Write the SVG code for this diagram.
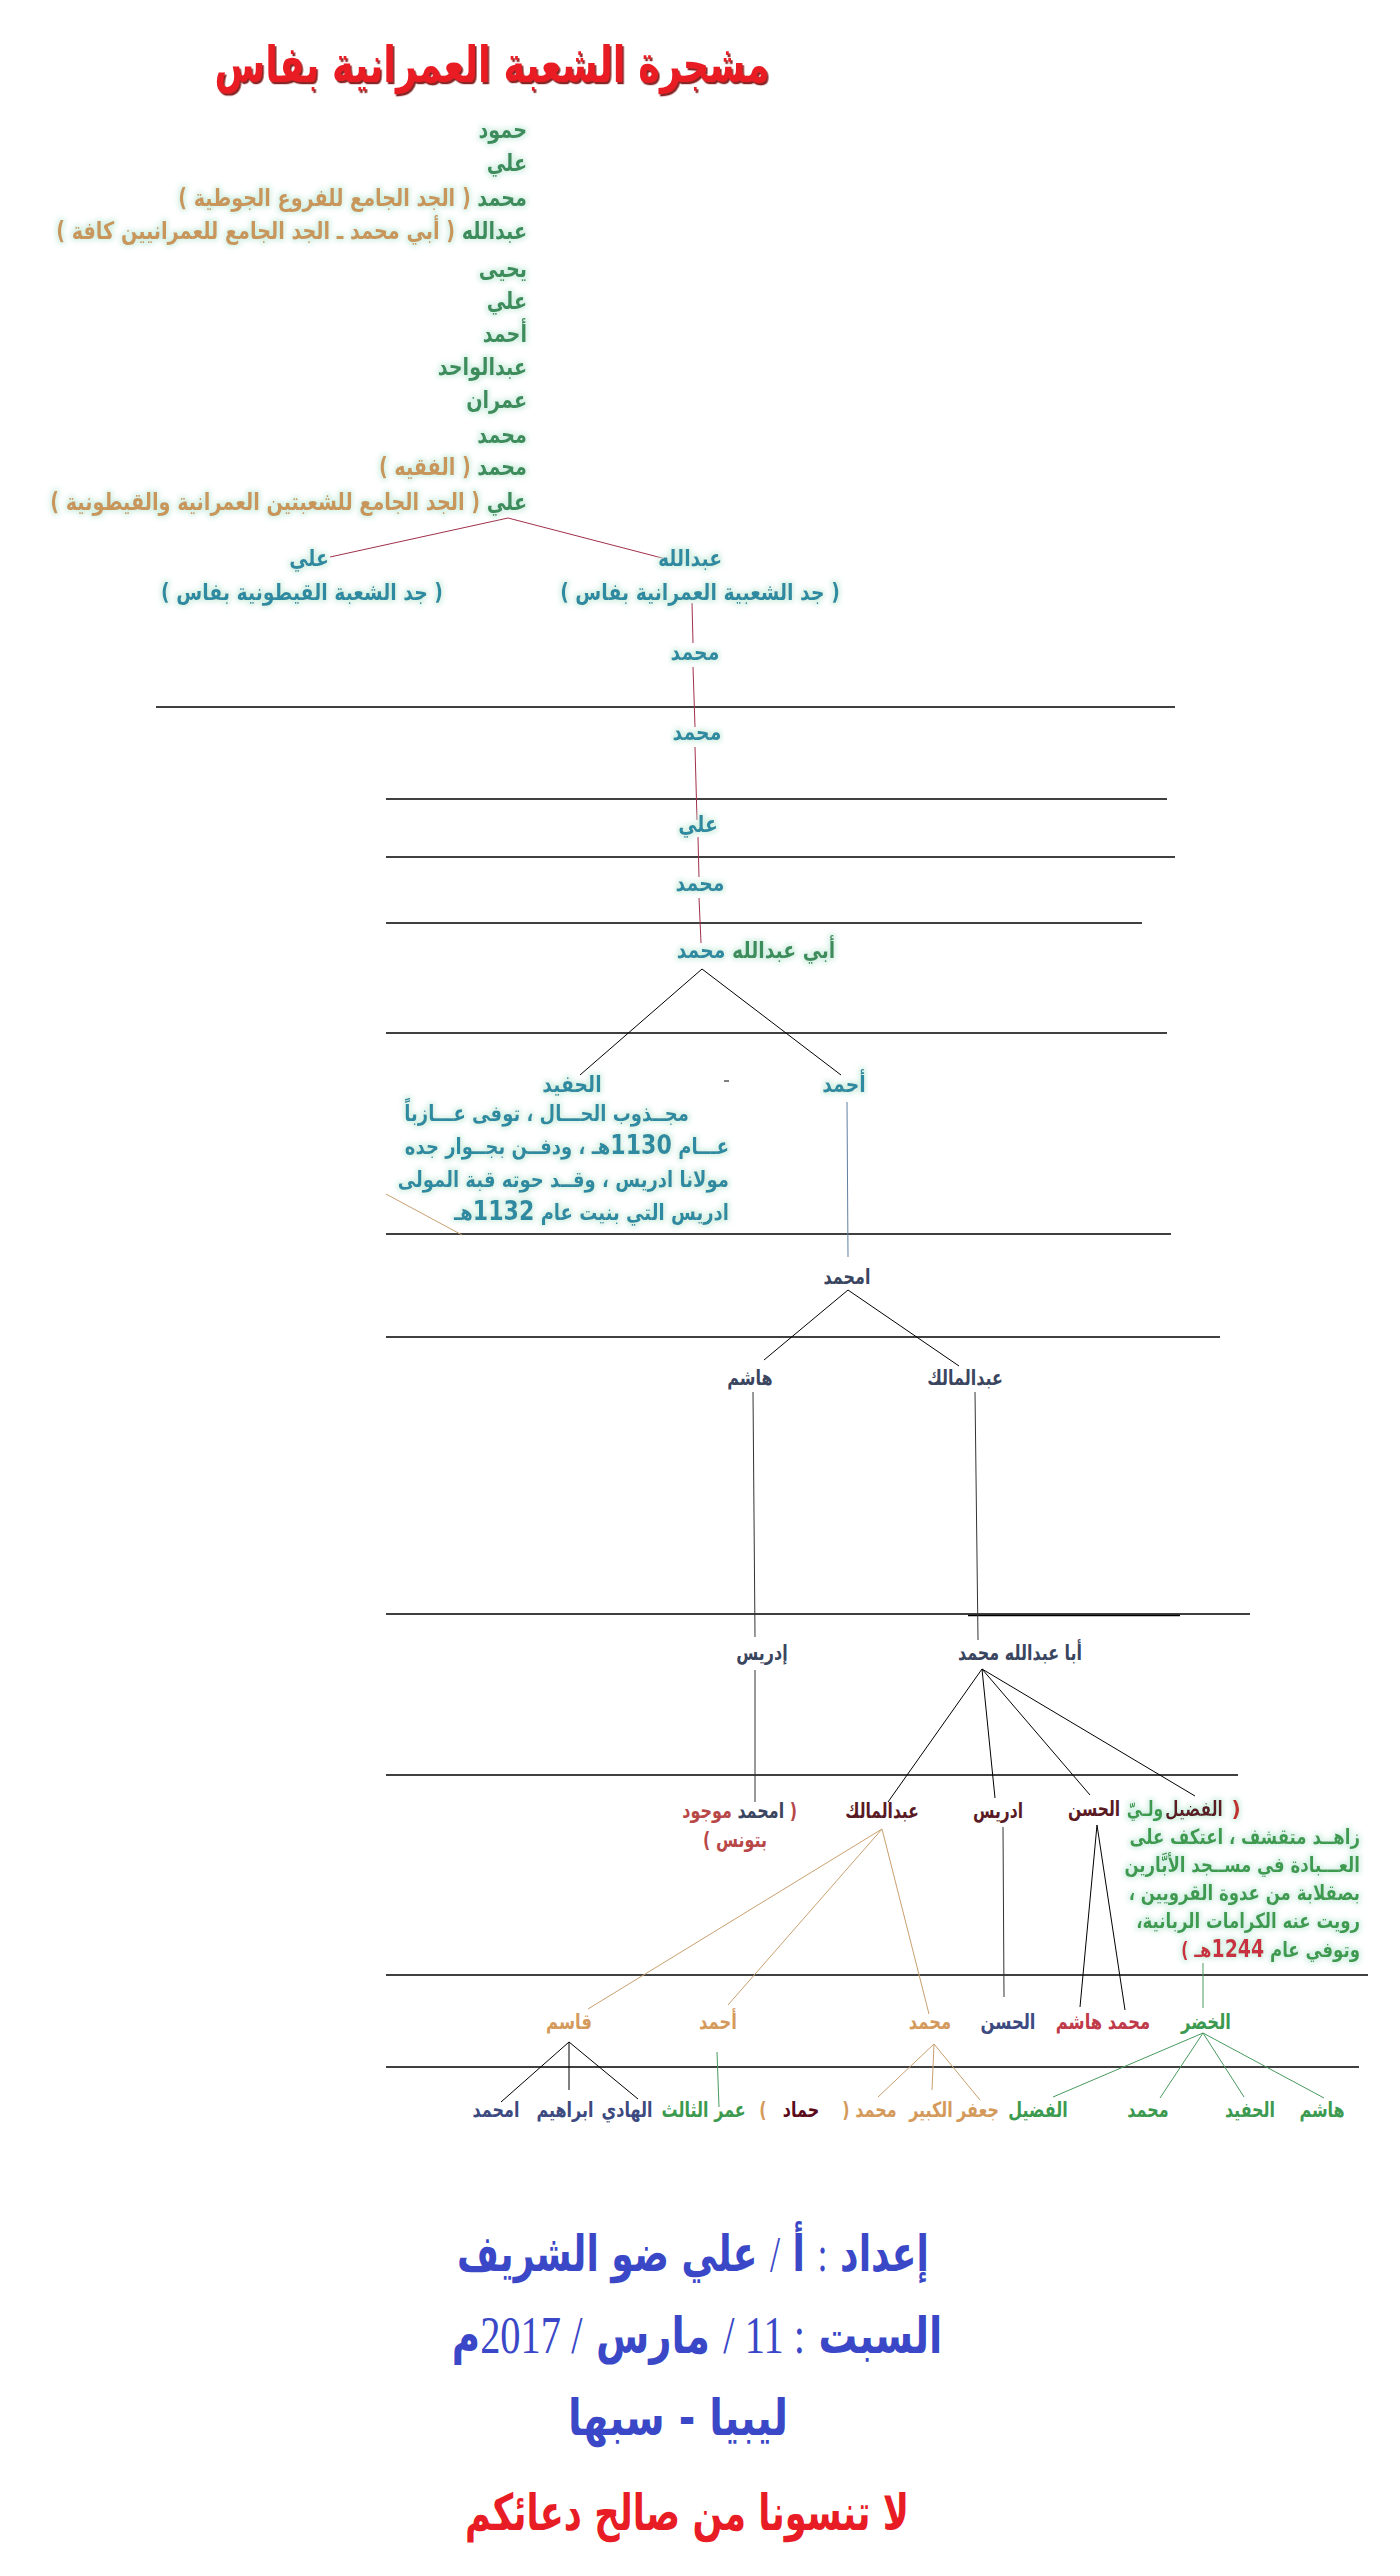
<svg xmlns="http://www.w3.org/2000/svg" width="1400" height="2576" viewBox="0 0 1400 2576">
<defs>
<style>
text{font-family:"DejaVu Sans","Noto Sans",sans-serif;font-weight:bold;direction:rtl;}
.c{text-anchor:middle;}
.r{text-anchor:start;}
.title{font-size:46px;fill:#e81c24;}
.anc{font-size:24px;fill:#3c8c5c;}
.tan{fill:#c8965a;}
.teal{fill:#2e8aa0;font-size:23px;}
.gr{fill:#3c8c5c;}
.para{font-size:22px;fill:#2e8aa0;}
.slate{fill:#3a4560;font-size:21px;}
.maroon{fill:#5a1a24;font-size:21px;}
.red2{fill:#b84848;}
.paraG{font-size:21px;fill:#3c9a50;}
.row{font-size:21px;}
.cTan{fill:#d49a5c;}
.cGreen{fill:#3c9a50;}
.cBlue{fill:#3c4a80;}
.cCrim{fill:#c03a4a;}
.cMar{fill:#5a0a18;}
.foot{font-size:42px;fill:#3a48c8;}
.num{font-family:"Liberation Serif",serif;font-weight:normal;}
.hr{stroke:#000;stroke-width:1.6;fill:none;}
.ln{stroke:#000;stroke-width:1;fill:none;}
.lnC{stroke:#a0304a;stroke-width:1;fill:none;}
.lnS{stroke:#6080a0;stroke-width:1;fill:none;}
.lnT{stroke:#c8a070;stroke-width:1;fill:none;}
.lnG{stroke:#4a9a60;stroke-width:1;fill:none;}
.lnD{stroke:#333;stroke-width:1;fill:none;}
</style>
<filter id="glow" x="-5%" y="-40%" width="110%" height="180%">
<feMorphology in="SourceAlpha" operator="dilate" radius="1.5" result="d"/>
<feGaussianBlur in="d" stdDeviation="2.5" result="b"/>
<feFlood flood-color="#c8ecdc" flood-opacity="0.75"/>
<feComposite in2="b" operator="in" result="g"/>
<feMerge><feMergeNode in="g"/><feMergeNode in="SourceGraphic"/></feMerge>
</filter>
<filter id="shadow" x="-5%" y="-20%" width="110%" height="140%">
<feDropShadow dx="2" dy="2" stdDeviation="0.6" flood-color="#7a0a0a" flood-opacity="0.9"/>
</filter>
</defs>
<rect width="1400" height="2576" fill="#fff"/>

<g id="rules">
<line class="hr" x1="156" y1="707" x2="1175" y2="707"/>
<line class="hr" x1="386" y1="799" x2="1167" y2="799"/>
<line class="hr" x1="386" y1="857" x2="1175" y2="857"/>
<line class="hr" x1="386" y1="923" x2="1142" y2="923"/>
<line class="hr" x1="386" y1="1033" x2="1167" y2="1033"/>
<line class="hr" x1="386" y1="1234" x2="1171" y2="1234"/>
<line class="hr" x1="386" y1="1337" x2="1220" y2="1337"/>
<line class="hr" x1="386" y1="1614" x2="1250" y2="1614"/>
<line class="hr" x1="968" y1="1615.5" x2="1180" y2="1615.5"/>
<line class="hr" x1="386" y1="1775" x2="1238" y2="1775"/>
<line class="hr" x1="386" y1="1975" x2="1368" y2="1975"/>
<line class="hr" x1="386" y1="2067" x2="1359" y2="2067"/>
</g>

<g id="connectors">
<line class="lnC" x1="508" y1="518" x2="330" y2="557"/>
<line class="lnC" x1="508" y1="518" x2="666" y2="559"/>
<line class="lnC" x1="692" y1="603" x2="693" y2="643"/>
<line class="lnC" x1="693" y1="667" x2="695" y2="727"/>
<line class="lnC" x1="695" y1="747" x2="697" y2="820"/>
<line class="lnC" x1="698" y1="837" x2="699" y2="877"/>
<line class="lnC" x1="699" y1="898" x2="701" y2="943"/>
<line class="ln" x1="702" y1="969" x2="580" y2="1075"/>
<line class="ln" x1="702" y1="969" x2="841" y2="1075"/>
<line class="ln" x1="724" y1="1081" x2="729" y2="1081"/>
<line class="lnT" x1="386" y1="1194" x2="462" y2="1235"/>
<line class="lnS" x1="847" y1="1102" x2="848" y2="1257"/>
<line class="ln" x1="848" y1="1290" x2="764" y2="1360"/>
<line class="ln" x1="848" y1="1290" x2="959" y2="1366"/>
<line class="lnD" x1="753" y1="1392" x2="755" y2="1637"/>
<line class="lnD" x1="975" y1="1392" x2="978" y2="1640"/>
<line class="lnD" x1="755" y1="1670" x2="755" y2="1802"/>
<line class="ln" x1="982" y1="1669" x2="888" y2="1802"/>
<line class="ln" x1="982" y1="1669" x2="995" y2="1798"/>
<line class="ln" x1="982" y1="1669" x2="1090" y2="1795"/>
<line class="ln" x1="982" y1="1669" x2="1195" y2="1796"/>
<line class="lnD" x1="1003" y1="1827" x2="1004" y2="1997"/>
<line class="ln" x1="1097" y1="1825" x2="1080" y2="2007"/>
<line class="ln" x1="1097" y1="1825" x2="1125" y2="2010"/>
<line class="lnG" x1="1203" y1="1963" x2="1203" y2="2008"/>
<line class="lnT" x1="882" y1="1829" x2="588" y2="2009"/>
<line class="lnT" x1="882" y1="1829" x2="728" y2="2005"/>
<line class="lnT" x1="882" y1="1829" x2="929" y2="2014"/>
<line class="ln" x1="569" y1="2042" x2="501" y2="2102"/>
<line class="ln" x1="569" y1="2042" x2="569" y2="2090"/>
<line class="ln" x1="569" y1="2042" x2="638" y2="2099"/>
<line class="lnG" x1="717" y1="2052" x2="719" y2="2107"/>
<line class="lnT" x1="934" y1="2044" x2="878" y2="2097"/>
<line class="lnT" x1="934" y1="2044" x2="932" y2="2090"/>
<line class="lnT" x1="934" y1="2044" x2="980" y2="2100"/>
<line class="lnG" x1="1203" y1="2033" x2="1053" y2="2097"/>
<line class="lnG" x1="1203" y1="2033" x2="1160" y2="2098"/>
<line class="lnG" x1="1203" y1="2033" x2="1244" y2="2097"/>
<line class="lnG" x1="1203" y1="2033" x2="1324" y2="2098"/>
</g>

<g id="title"><text class="title c" x="492" y="82" transform="matrix(0.8,0,0,1.1,98.4,-8.2)" filter="url(#shadow)">مشجرة الشعبة العمرانية بفاس</text></g>

<g id="ancestors" filter="url(#glow)">
<g transform="matrix(0.8,0,0,1,105.4,0)">
<text class="anc r" x="527" y="138">حمود</text>
<text class="anc r" x="527" y="171">علي</text>
<text class="anc r" x="527" y="206">محمد <tspan class="tan">( الجد الجامع للفروع الجوطية )</tspan></text>
<text class="anc r" x="527" y="239">عبدالله <tspan class="tan">( أبي محمد ـ الجد الجامع للعمرانيين كافة )</tspan></text>
<text class="anc r" x="527" y="277">يحيى</text>
<text class="anc r" x="527" y="309">علي</text>
<text class="anc r" x="527" y="342">أحمد</text>
<text class="anc r" x="527" y="375">عبدالواحد</text>
<text class="anc r" x="527" y="408">عمران</text>
<text class="anc r" x="527" y="443">محمد</text>
<text class="anc r" x="527" y="475">محمد <tspan class="tan">( الفقيه )</tspan></text>
<text class="anc r" x="527" y="510">علي <tspan class="tan">( الجد الجامع للشعبتين العمرانية والقيطونية )</tspan></text>
</g>
</g>

<g id="n-ali-q" filter="url(#glow)">
<text class="teal c" x="309" y="566" transform="matrix(0.82,0,0,1,55.62,0)">علي</text>
<text class="teal c tan" x="302" y="600" transform="matrix(0.82,0,0,1,54.36,0)">( جد الشعبة القيطونية بفاس )</text>
</g>
<g id="n-abdallah" filter="url(#glow)">
<text class="teal c" x="690" y="566" transform="matrix(0.82,0,0,1,124.2,0)">عبدالله</text>
<text class="teal c tan" x="700" y="600" transform="matrix(0.82,0,0,1,126,0)">( جد الشعبية العمرانية بفاس )</text>
</g>
<g id="n-m1" filter="url(#glow)"><text class="teal c" x="695" y="660" transform="matrix(0.82,0,0,1,125.1,0)">محمد</text></g>
<g id="n-m2" filter="url(#glow)"><text class="teal c" x="697" y="740" transform="matrix(0.82,0,0,1,125.46,0)">محمد</text></g>
<g id="n-ali2" filter="url(#glow)"><text class="teal c" x="698" y="832" transform="matrix(0.82,0,0,1,125.64,0)">علي</text></g>
<g id="n-m3" filter="url(#glow)"><text class="teal c" x="700" y="891" transform="matrix(0.82,0,0,1,126,0)">محمد</text></g>
<g id="n-abi" filter="url(#glow)"><text class="teal c" x="756" y="958" transform="matrix(0.82,0,0,1,136.08,0)"><tspan class="gr">أبي عبدالله</tspan> محمد</text></g>

<g id="n-hafid" filter="url(#glow)">
<text class="teal c" x="572" y="1092" transform="matrix(0.82,0,0,1,102.96,0)">الحفيد</text>
<text class="para r" x="689" y="1121" transform="matrix(0.82,0,0,1,124.02,0)">مجــذوب الحـــال ، توفى عـــازباً</text>
<g transform="matrix(0.82,0,0,1,131.22,0)">
<text class="para r" x="729" y="1154">عـــام <tspan font-size="27">1130</tspan>هـ ، ودفــن بجــوار جده</text>
<text class="para r" x="729" y="1187">مولانا ادريس ، وقــد حوته قبة المولى</text>
<text class="para r" x="729" y="1220">ادريس التي بنيت عام <tspan font-size="27">1132</tspan>هـ</text>
</g>
</g>
<g id="n-ahmad" filter="url(#glow)"><text class="teal c" x="844" y="1092" transform="matrix(0.82,0,0,1,151.92,0)">أحمد</text></g>

<g id="n-amhmd"><text class="slate c" x="847" y="1284" transform="matrix(0.76,0,0,1,203.28,0)">امحمد</text></g>
<g id="n-hashim"><text class="slate c" x="750" y="1385" transform="matrix(0.76,0,0,1,180,0)">هاشم</text></g>
<g id="n-abdalmalik"><text class="slate c" x="965" y="1385" transform="matrix(0.76,0,0,1,231.6,0)">عبدالمالك</text></g>
<g id="n-idris"><text class="slate c" x="762" y="1660" transform="matrix(0.76,0,0,1,182.88,0)">إدريس</text></g>
<g id="n-aba"><text class="slate c" x="1020" y="1660" transform="matrix(0.76,0,0,1,244.8,0)">أبا عبدالله محمد</text></g>

<g id="n-amhmd2">
<text class="slate r" x="797" y="1818" transform="matrix(0.76,0,0,1,191.28,0)"><tspan class="red2">(</tspan> امحمد <tspan class="red2">موجود</tspan></text>
<text class="slate c red2" x="735" y="1847" transform="matrix(0.76,0,0,1,176.4,0)">بتونس )</text>
</g>
<g id="n-abdalmalik2"><text class="maroon c" x="882" y="1818" transform="matrix(0.74,0,0,1,229.32,0)">عبدالمالك</text></g>
<g id="n-idris2"><text class="maroon c" x="998" y="1818" transform="matrix(0.74,0,0,1,259.48,0)">ادريس</text></g>
<g id="n-hasan"><text class="maroon c" x="1094" y="1816" transform="matrix(0.74,0,0,1,284.44,0)">الحسن</text></g>
<g id="n-fudail" filter="url(#glow)">
<text class="maroon c" x="1236" y="1816" style="fill:#c03030">(</text>
<text class="maroon c" x="1194" y="1816" transform="matrix(0.74,0,0,1,310.44,0)">الفضيل</text>
<text class="maroon c cGreen" x="1145" y="1816" transform="matrix(0.74,0,0,1,297.7,0)">ولـيّ</text>
<g transform="matrix(0.79,0,0,1,285.6,0)">
<text class="paraG r" x="1360" y="1844">زاهــد متقشف ، اعتكف على</text>
<text class="paraG r" x="1360" y="1872">العـــبادة في مســجد الأبَّارين</text>
<text class="paraG r" x="1360" y="1900">بصقلابة من عدوة القرويين ،</text>
<text class="paraG r" x="1360" y="1928">رويت عنه الكرامات الربانية،</text>
<text class="paraG r" x="1360" y="1957">وتوفي عام <tspan fill="#c83040" font-size="24">1244</tspan><tspan fill="#c83040">هـ )</tspan></text>
</g>
</g>

<g id="n-qasim"><text class="row c cTan" x="569" y="2029" transform="matrix(0.78,0,0,1,125.18,0)">قاسم</text></g>
<g id="n-ahmad3"><text class="row c cTan" x="718" y="2029" transform="matrix(0.78,0,0,1,157.96,0)">أحمد</text></g>
<g id="n-mhmd3"><text class="row c cTan" x="930" y="2029" transform="matrix(0.78,0,0,1,204.6,0)">محمد</text></g>
<g id="n-hasan3"><text class="row c cBlue" x="1008" y="2029" transform="matrix(0.78,0,0,1,221.76,0)">الحسن</text></g>
<g id="n-mh"><text class="row c cCrim" x="1103" y="2029" transform="matrix(0.78,0,0,1,242.66,0)">محمد هاشم</text></g>
<g id="n-khadir"><text class="row c cGreen" x="1206" y="2029" transform="matrix(0.78,0,0,1,265.32,0)">الخضر</text></g>

<g id="bottom-row">
<text class="row c cBlue" x="496" y="2117" transform="matrix(0.76,0,0,1,119.04,0)">امحمد</text>
<text class="row c cBlue" x="565" y="2117" transform="matrix(0.76,0,0,1,135.6,0)">ابراهيم</text>
<text class="row c cBlue" x="627" y="2117" transform="matrix(0.76,0,0,1,150.48,0)">الهادي</text>
<text class="row c cGreen" x="685" y="2117" transform="matrix(0.76,0,0,1,164.4,0)">الثالث</text>
<text class="row c cGreen" x="730" y="2117" transform="matrix(0.76,0,0,1,175.2,0)">عمر</text>
<text class="row c cTan" x="763" y="2117" transform="matrix(0.76,0,0,1,183.12,0)">)</text>
<text class="row c cMar" x="801" y="2117" transform="matrix(0.76,0,0,1,192.24,0)">حماد</text>
<text class="row c cTan" x="846" y="2117" transform="matrix(0.76,0,0,1,203.04,0)">(</text>
<text class="row c cTan" x="876" y="2117" transform="matrix(0.76,0,0,1,210.24,0)">محمد</text>
<text class="row c cTan" x="931" y="2117" transform="matrix(0.76,0,0,1,223.44,0)">الكبير</text>
<text class="row c cTan" x="978" y="2117" transform="matrix(0.76,0,0,1,234.72,0)">جعفر</text>
<text class="row c cGreen" x="1038" y="2117" transform="matrix(0.76,0,0,1,249.12,0)">الفضيل</text>
<text class="row c cGreen" x="1148" y="2117" transform="matrix(0.76,0,0,1,275.52,0)">محمد</text>
<text class="row c cGreen" x="1250" y="2117" transform="matrix(0.76,0,0,1,300,0)">الحفيد</text>
<text class="row c cGreen" x="1322" y="2117" transform="matrix(0.76,0,0,1,317.28,0)">هاشم</text>
</g>

<g id="footer">
<text class="foot c" x="693" y="2271" transform="matrix(0.86,0,0,1.2,97.02,-454.2)">إعداد <tspan class="num">:</tspan> أ <tspan class="num">/</tspan> علي ضو الشريف</text>
<text class="foot c" x="697" y="2353" transform="matrix(0.92,0,0,1.2,55.76,-470.6)">السبت <tspan class="num" font-size="44">: 11 /</tspan> مارس <tspan class="num" font-size="44">/ 2017</tspan>م</text>
<text class="foot c" x="678" y="2435" transform="matrix(0.95,0,0,1.2,33.9,-487)">ليبيا - سبها</text>
<text class="foot c" x="687" y="2530" transform="matrix(0.84,0,0,1.2,109.92,-506)" style="fill:#e81c24">لا تنسونا من صالح دعائكم</text>
</g>
</svg>
